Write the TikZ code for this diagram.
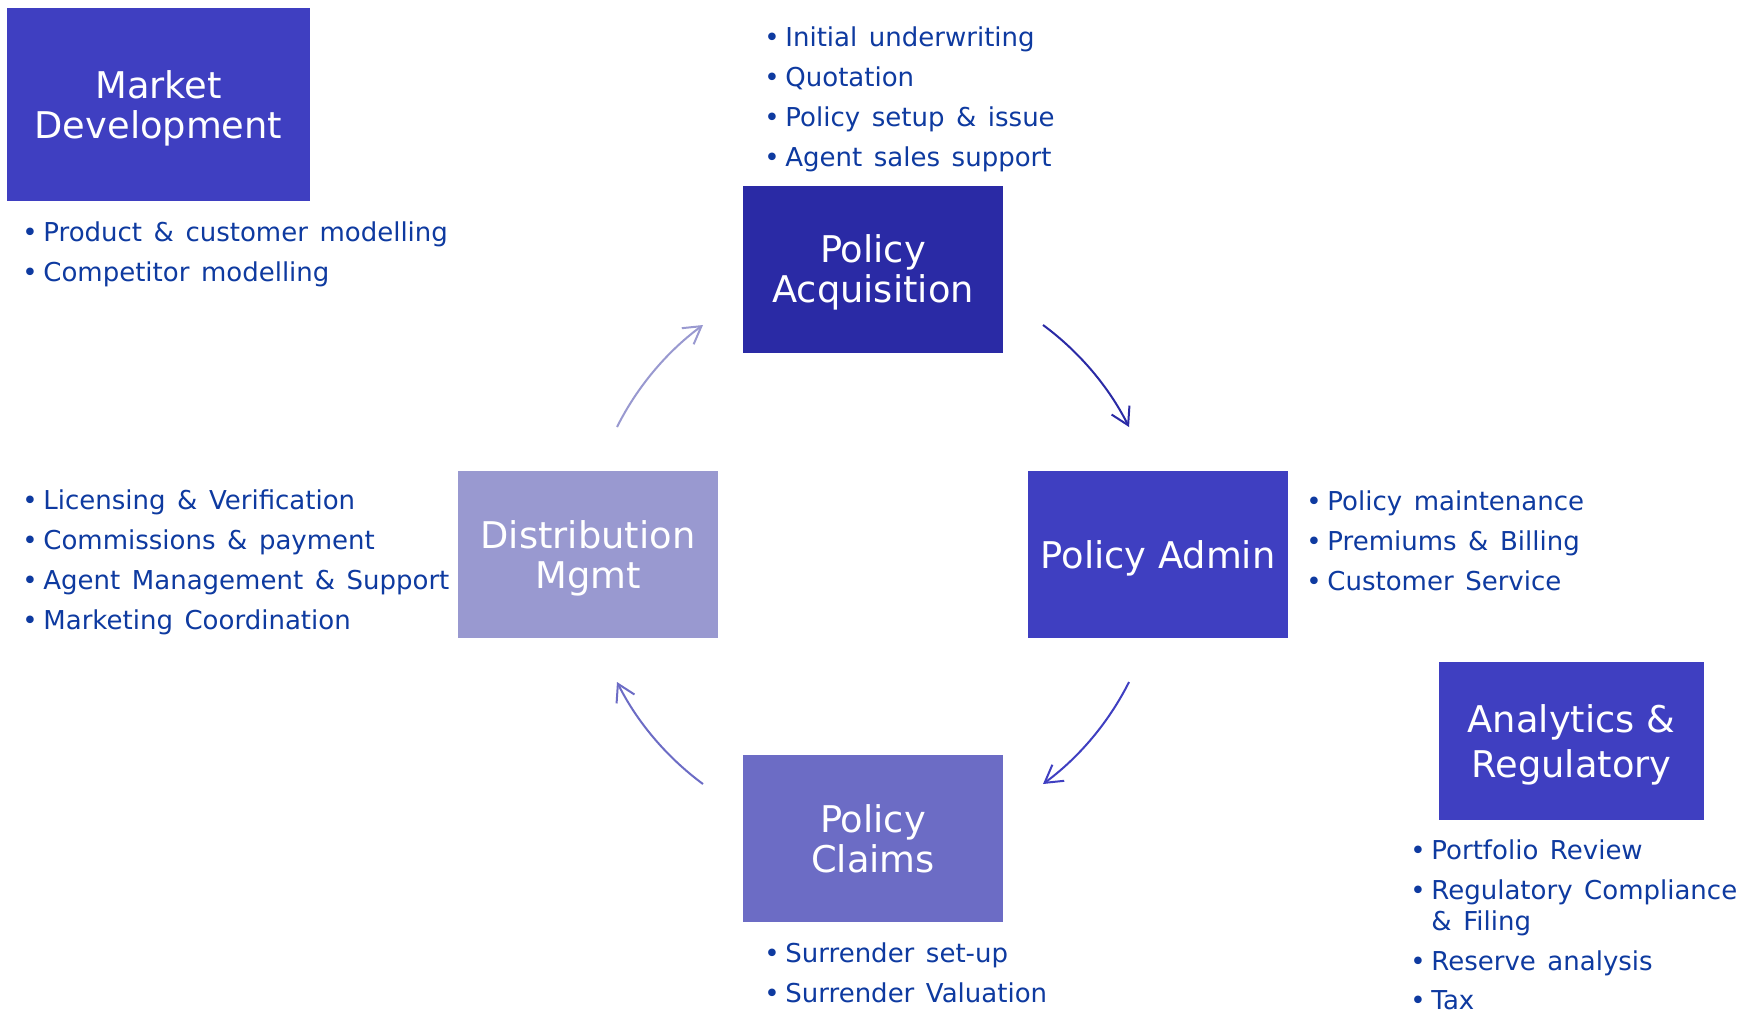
\documentclass[tikz,border=0pt]{standalone}
\usepackage{fontspec}
\setmainfont{DejaVu Sans}
\newfontfamily\itemfont{DejaVu Sans}[WordSpace=1.4]
\usetikzlibrary{arrows.meta}

\definecolor{stageMid}{RGB}{63,63,193}
\definecolor{stageDark}{RGB}{42,42,165}
\definecolor{stageLight}{RGB}{153,153,208}
\definecolor{stageSoft}{RGB}{108,108,197}
\definecolor{itemBlue}{RGB}{14,58,160}

\newcommand{\bul}{\makebox[8pt][l]{\hspace{-2.5pt}\textbullet}}

\begin{document}
\begin{tikzpicture}[x=0.5pt,y=-0.5pt,
        stage/.style={fill=#1, text=white, align=center, inner sep=0pt,
            minimum width=130pt, minimum height=83.5pt, text depth=0pt,
            font=\fontsize{18.4}{20}\selectfont},
        item/.style={anchor=base west, inner sep=0pt, text=itemBlue,
            font=\itemfont\fontsize{13}{15.5}\selectfont},
        flow/.style={draw=#1, line width=1pt,
            -{Straight Barb[length=8.5pt,width=10pt]}}]

        % Page size
        \fill[white] (0,0) rectangle (1754,1012);

        % Draw the stage boxes
        \node[stage=stageMid, minimum width=151.5pt, minimum height=96.5pt] (mktdev) at (158.5,104.5) {Market\\Development};
        \node[stage=stageDark] (acq) at (873,269) {Policy\\Acquisition};
        \node[stage=stageMid] (admin) at (1158,554.5) {Policy Admin};
        \node[stage=stageSoft] (claims) at (873,838.5) {Policy\\Claims};
        \node[stage=stageLight] (dist) at (588,554.5) {Distribution\\Mgmt};
        \node[stage=stageMid, minimum width=132.5pt, minimum height=79pt,
            font=\fontsize{18.4}{22.5}\selectfont] (ana) at (1571.5,741) {Analytics \&\\Regulatory};

        % Arrow ends around the ring
        \coordinate (dist-out) at (617,427);
        \coordinate (acq-in) at (703,325);
        \coordinate (acq-out) at (1043,325);
        \coordinate (admin-in) at (1129,427);
        \coordinate (admin-out) at (1129,682);
        \coordinate (claims-in) at (1043,784);
        \coordinate (claims-out) at (703,784);
        \coordinate (dist-in) at (617,682);

        % Draw the cycle
        \draw[flow=stageLight] (dist-out) to[bend left=13.5, looseness=0.86] (acq-in);
        \draw[flow=stageDark] (acq-out) to[bend left=13.5, looseness=0.86] (admin-in);
        \draw[flow=stageMid] (admin-out) to[bend left=13.5, looseness=0.86] (claims-in);
        \draw[flow=stageSoft] (claims-out) to[bend left=13.5, looseness=0.86] (dist-in);

        % Bullet lists
        \foreach \txt [count=\i] in {Product \& customer modelling, Competitor modelling}
            \node[item] (mktdev-\i) at (27,201+40*\i) {\bul\txt};
        \foreach \txt [count=\i] in {Initial underwriting, Quotation, Policy setup \& issue, Agent sales support}
            \node[item] (acq-\i) at (769,6+40*\i) {\bul\txt};
        \foreach \txt [count=\i] in {Policy maintenance, Premiums \& Billing, Customer Service}
            \node[item] (admin-\i) at (1311,470+40*\i) {\bul\txt};
        \foreach \txt [count=\i] in {Licensing \& Verification, Commissions \& payment, Agent Management \& Support, Marketing Coordination}
            \node[item] (dist-\i) at (27,469+40*\i) {\bul\txt};
        \foreach \txt [count=\i] in {Surrender set-up, Surrender Valuation}
            \node[item] (claims-\i) at (769,922+40*\i) {\bul\txt};

        \node[item] (ana-1) at (1415,859) {\bul Portfolio Review};
        \node[item, align=left] (ana-2) at (1415,930) {\bul Regulatory Compliance\\\hspace*{8pt}\& Filing};
        \node[item] (ana-3) at (1415,970) {\bul Reserve analysis};
        \node[item] (ana-4) at (1415,1009) {\bul Tax};
    \end{tikzpicture}
\end{document}
